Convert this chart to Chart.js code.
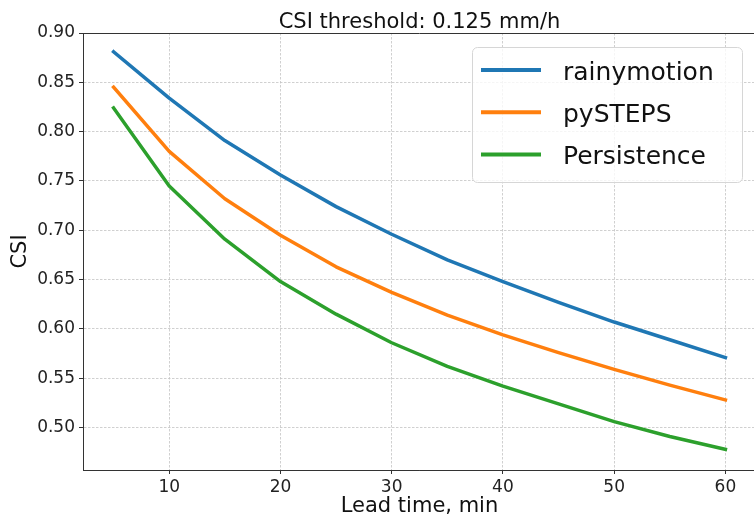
<!DOCTYPE html>
<html>
<head>
<meta charset="utf-8">
<script src="https://cdn.jsdelivr.net/npm/chart.js"></script>
<style>
  html, body { margin: 0; padding: 0; background: #fff; overflow: hidden; }
  #csiChart { display: block; }
</style>
</head>
<body>
<canvas id="csiChart" width="758" height="519"></canvas>
<script>
// values
const leadTimes = [5, 10, 15, 20, 25, 30, 35, 40, 45, 50, 55, 60];
const rainymotion = [0.881, 0.834, 0.791, 0.756, 0.724, 0.696, 0.670, 0.648, 0.627, 0.607, 0.589, 0.571];
const pysteps = [0.845, 0.780, 0.732, 0.695, 0.663, 0.637, 0.614, 0.594, 0.576, 0.559, 0.543, 0.528];
const persistence = [0.824, 0.745, 0.691, 0.648, 0.615, 0.586, 0.562, 0.542, 0.524, 0.506, 0.491, 0.478];

const seriesNames = ['rainymotion', 'pySTEPS', 'Persistence'];
const seriesColors = ['#1f77b4', '#ff7f0e', '#2ca02c'];
const xTicks = [10, 20, 30, 40, 50, 60];
const yTicks = [0.50, 0.55, 0.60, 0.65, 0.70, 0.75, 0.80, 0.85, 0.90];
const chartTitle = 'CSI threshold: 0.125 mm/h';

const FONT = "'DejaVu Sans', sans-serif";
Chart.defaults.font.family = FONT;

function toPoints(vals) {
  return leadTimes.map((t, i) => ({ x: t, y: vals[i] }));
}

// title, top spine and the boxed legend inside the plot, matplotlib-style
const decorations = {
  id: 'decorations',
  afterDraw(chart) {
    const ctx = chart.ctx;
    const area = chart.chartArea;
    ctx.save();

    ctx.strokeStyle = '#333';
    ctx.lineWidth = 1;
    ctx.beginPath();
    ctx.moveTo(area.left, area.top + 0.5);
    ctx.lineTo(area.right, area.top + 0.5);
    ctx.stroke();

    ctx.fillStyle = '#111';
    ctx.font = '21px ' + FONT;
    ctx.textAlign = 'center';
    ctx.textBaseline = 'alphabetic';
    ctx.fillText(chartTitle, (area.left + area.right) / 2, 27.5);

    // legend box
    const bx = 472.5, by = 47.5, bw = 270, bh = 135, r = 5;
    ctx.beginPath();
    ctx.roundRect(bx, by, bw, bh, r);
    ctx.fillStyle = 'rgba(255,255,255,0.8)';
    ctx.fill();
    ctx.strokeStyle = '#d6d6d6';
    ctx.lineWidth = 1;
    ctx.stroke();

    ctx.font = '25px ' + FONT;
    ctx.textAlign = 'left';
    chart.data.datasets.forEach((ds, i) => {
      const cy = 70 + i * 42.2;
      ctx.strokeStyle = ds.borderColor;
      ctx.lineWidth = 4;
      ctx.lineCap = 'butt';
      ctx.beginPath();
      ctx.moveTo(481, cy);
      ctx.lineTo(541, cy);
      ctx.stroke();
      ctx.fillStyle = '#111';
      ctx.fillText(ds.label, 563, cy + 10);
    });
    ctx.restore();
  }
};

const ctx = document.getElementById('csiChart').getContext('2d');

new Chart(ctx, {
  type: 'line',
  data: {
    datasets: [rainymotion, pysteps, persistence].map((vals, i) => ({
      label: seriesNames[i],
      data: toPoints(vals),
      borderColor: seriesColors[i],
      backgroundColor: seriesColors[i],
      borderWidth: 3.5,
      borderCapStyle: 'square',
      borderJoinStyle: 'round',
      pointRadius: 0,
      tension: 0,
      fill: false
    }))
  },
  options: {
    responsive: false,
    animation: false,
    devicePixelRatio: 1,
    layout: { padding: { top: 33, right: 2, left: 0, bottom: 0 } },
    scales: {
      x: {
        type: 'linear',
        min: 2.25,
        max: 62.75,
        afterBuildTicks: axis => { axis.ticks = xTicks.map(v => ({ value: v })); },
        afterFit: axis => { axis.height = 49; },
        ticks: { color: '#222', font: { size: 17 }, padding: 3, maxRotation: 0 },
        grid: { color: '#c4c4c4', lineWidth: 0.8, tickLength: 4, tickColor: '#333', tickWidth: 1 },
        border: { color: '#333', width: 1, dash: [2.5, 1.5] },
        title: { display: true, text: 'Lead time, min', color: '#111', font: { size: 21 }, padding: { top: 0, bottom: 0 } }
      },
      y: {
        min: 0.457,
        max: 0.9,
        afterBuildTicks: axis => { axis.ticks = yTicks.map(v => ({ value: v })); },
        afterFit: axis => { axis.width = 83; },
        ticks: { color: '#222', font: { size: 17 }, padding: 4, callback: v => v.toFixed(2) },
        grid: { color: '#c4c4c4', lineWidth: 0.8, tickLength: 4, tickColor: '#333', tickWidth: 1 },
        border: { color: '#333', width: 1, dash: [2.5, 1.5] },
        title: { display: true, text: 'CSI', color: '#111', font: { size: 21 }, padding: { top: 8, bottom: 0 } }
      }
    },
    plugins: {
      legend: { display: false },
      title: { display: false },
      tooltip: { enabled: false }
    }
  },
  plugins: [decorations]
});
</script>
</body>
</html>
